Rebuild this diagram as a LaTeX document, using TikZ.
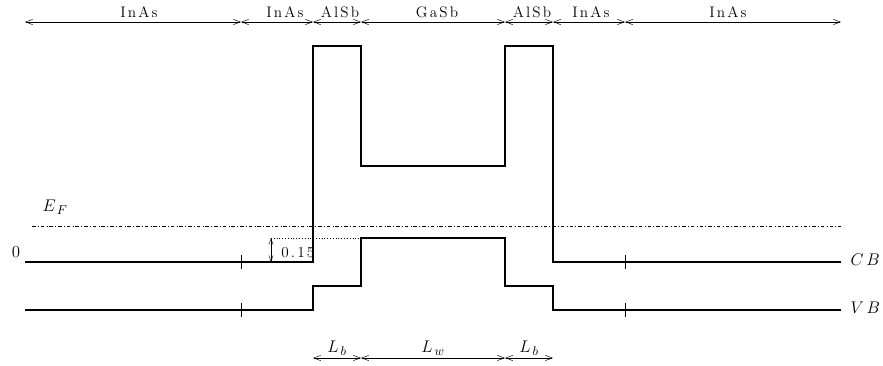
\documentclass[tikz,border=0pt]{standalone}
\usepackage{amsmath}
\usepackage{fontspec}
\newfontfamily\spacedfont[LetterSpace=14]{Latin Modern Roman}
\usetikzlibrary{arrows.meta}

\begin{document}
\begin{tikzpicture}[x=0.03cm,y=-0.03cm,
    dim/.style={{Straight Barb[length=6pt,width=4.5pt]}-{Straight Barb[length=6pt,width=4.5pt]},thin},
    band/.style={line width=1.4pt},
    lbl/.style={font=\fontsize{13}{15}\spacedfont,inner sep=2pt},
    mlbl/.style={font=\fontsize{15.5}{18}\selectfont,inner sep=2pt}]
      \useasboundingbox (0,0) rectangle (883,366);
      % layer boundaries
      \foreach \n/\x in {0/25,1/241,2/313,3/361,4/505,5/553,6/625,7/841}{
        \coordinate (t\n) at (\x,22);
      }
      \foreach \a/\b/\c/\t in {0/1/139/InAs,1/2/285/InAs,2/3/340/AlSb,3/4/437/GaSb,4/5/532/AlSb,5/6/591/InAs,6/7/728/InAs}{
        \draw[dim] (t\a) -- (t\b);
        \node[lbl,anchor=base] (m\a) at (\c,18) {\t};
      }
      % conduction band
      \draw[band] (25,262) -- (313,262) -- (313,46) -- (361,46) -- (361,166)
        -- (505,166) -- (505,46) -- (553,46) -- (553,262) -- (841,262);
      % valence band
      \draw[band] (25,310) -- (313,310) -- (313,286) -- (361,286) -- (361,238)
        -- (505,238) -- (505,286) -- (553,286) -- (553,310) -- (841,310);
      \foreach \x in {241,625}{
        \draw (\x,255) -- (\x,269);
        \draw (\x,303) -- (\x,317);
      }
      % Fermi level
      \draw[dash dot,thin] (32,226) -- (841,226);
      \node[mlbl] (ef) at (55,207) {$E_{\,F}$};
      \node[font=\fontsize{14}{16}\selectfont] (zero) at (16,252) {$0$};
      \node[mlbl,anchor=west] (cb) at (848,260) {$C\,B$};
      \node[mlbl,anchor=west] (vb) at (848,308) {$V\,B$};
      % offset 0.15
      \coordinate (d1) at (271,238);
      \coordinate (d2) at (271,262);
      \draw[dotted] (d1) -- (361,238);
      \draw[{Straight Barb[length=5pt,width=3.5pt]}-{Straight Barb[length=5pt,width=3.5pt]},thin] (d1) -- (d2);
      \node[lbl,anchor=west,inner sep=1pt] (off) at (280,253) {0.15};
      % widths
      \foreach \n/\x in {0/313,1/361,2/505,3/553}{
        \coordinate (b\n) at (\x,358);
      }
      \draw[dim] (b0) -- node[above,mlbl] (lb1) {$L_{\,b}$} (b1);
      \draw[dim] (b1) -- node[above,mlbl] (lw) {$L_{\,w}$} (b2);
      \draw[dim] (b2) -- node[above,mlbl] (lb2) {$L_{\,b}$} (b3);
    \end{tikzpicture}
\end{document}
